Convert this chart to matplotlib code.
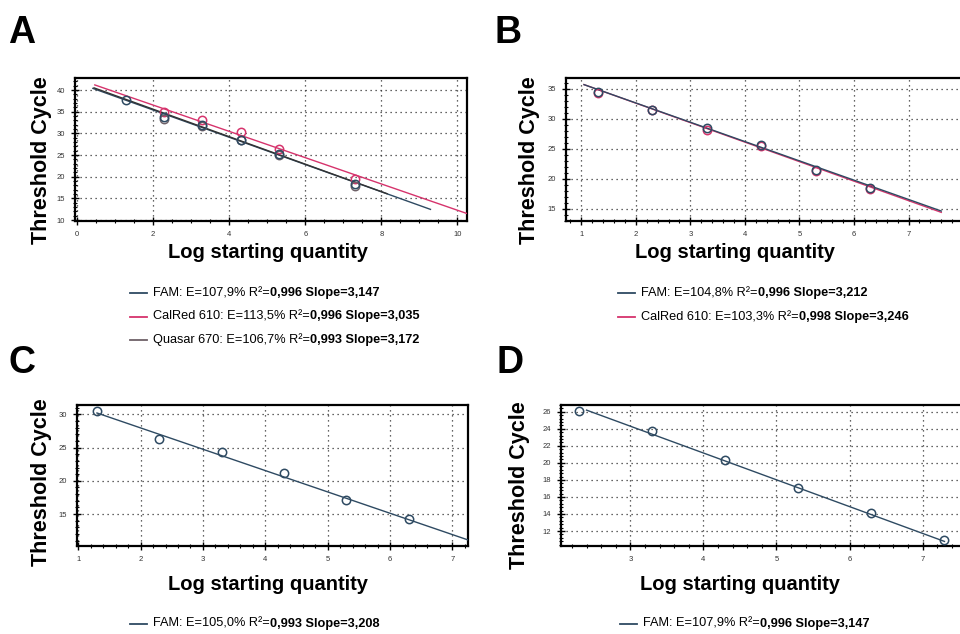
import numpy as np
import matplotlib
matplotlib.use('Agg')
import matplotlib.pyplot as plt
from matplotlib.ticker import MultipleLocator, AutoMinorLocator
from matplotlib.lines import Line2D

plt.rcParams['font.family'] = ['Liberation Sans', 'DejaVu Sans']

# 颜色
c_fam = '#2e4a62'
c_cal = '#d6336c'
c_qua = '#6e6168'

# ---- 数据 ----
# A
x_A = [1.3, 2.3, 3.3, 4.3, 5.3, 7.3]
fam_A = [37.7, 33.8, 31.9, 28.6, 25.2, 18.4]
cal_A_x = [2.3, 3.3, 4.3, 5.3, 7.3]
cal_A = [35.0, 33.2, 30.3, 26.5, 19.6]
qua_A_x = [2.3, 3.3, 4.3, 5.3, 7.3]
qua_A = [33.3, 31.7, 28.4, 25.0, 17.9]
# 回归线: (斜率, 截距, x起点, x终点)
fit_fam_A = (-3.147, 41.72, 0.42, 9.29)
fit_cal_A = (-3.035, 42.63, 0.47, 10.3)
fit_qua_A = (-3.172, 41.95, 0.45, 8.15)

# B
x_B = [1.3, 2.3, 3.3, 4.3, 5.3, 6.3]
fam_B = [34.4, 31.5, 28.4, 25.6, 21.5, 18.5]
cal_B = [34.3, 31.4, 28.2, 25.5, 21.4, 18.4]
fit_fam_B = (-3.212, 39.07, 1.05, 7.6)
fit_cal_B = (-3.246, 39.11, 1.05, 7.6)

# C
x_C = [1.3, 2.3, 3.3, 4.3, 5.3, 6.3]
fam_C = [30.45, 26.35, 24.4, 21.2, 17.1, 14.25]
fit_fam_C = (-3.208, 34.37, 1.3, 7.3)

# D
x_D = [2.3, 3.3, 4.3, 5.3, 6.3, 7.3]
fam_D = [26.1, 23.7, 20.3, 17.0, 14.1, 11.0]
fit_fam_D = (-3.147, 33.75, 2.4, 7.3)

# 图例文字 (普通部分, 粗体部分, 颜色)
leg_A = [('FAM: E=107,9% R²=', '0,996 Slope=3,147', c_fam),
         ('CalRed 610: E=113,5% R²=', '0,996 Slope=3,035', c_cal),
         ('Quasar 670: E=106,7% R²=', '0,993 Slope=3,172', c_qua)]
leg_B = [('FAM: E=104,8% R²=', '0,996 Slope=3,212', c_fam),
         ('CalRed 610: E=103,3% R²=', '0,998 Slope=3,246', c_cal)]
leg_C = [('FAM: E=105,0% R²=', '0,993 Slope=3,208', c_fam)]
leg_D = [('FAM: E=107,9% R²=', '0,996 Slope=3,147', c_fam)]

W, H = 960, 634
fig = plt.figure(figsize=(W / 100, H / 100), dpi=100)


def px_rect(left, right, top, bottom):
    return [left / W, 1 - bottom / H, (right - left) / W, (bottom - top) / H]


def setup_axes(ax, xlim, ylim, xmaj, ymaj):
    ax.set_xlim(*xlim)
    ax.set_ylim(*ylim)
    ax.xaxis.set_major_locator(MultipleLocator(xmaj))
    ax.yaxis.set_major_locator(MultipleLocator(ymaj))
    ax.xaxis.set_minor_locator(AutoMinorLocator(4 if xmaj == 2 else 5))
    ax.yaxis.set_minor_locator(AutoMinorLocator(5))
    ax.tick_params(which='major', direction='inout', length=6, width=1,
                   labelsize=5.5, pad=4, labelcolor='#333333')
    ax.tick_params(which='minor', direction='inout', length=3, width=0.8)
    for s in ax.spines.values():
        s.set_linewidth(1.6)
    ax.grid(True, which='major', linestyle=(0, (1, 3)), color='#333333', lw=0.9)
    ax.set_axisbelow(True)


def fit_line(ax, fit, color, lw=1.0):
    k, b, x0, x1 = fit
    xs = np.array([x0, x1])
    ax.plot(xs, k * xs + b, color=color, lw=lw, zorder=3)


def points(ax, x, y, color):
    ax.plot(x, y, 'o', ms=6, mfc='none', mec=color, mew=1.1, zorder=4)


def legend(entries, x_line, y_first, dy):
    for i, (t1, t2, col) in enumerate(entries):
        y = y_first + i * dy
        fig.add_artist(Line2D([x_line / W, (x_line + 17) / W], [1 - y / H, 1 - y / H],
                              color=col, lw=1.3))
        t = fig.text((x_line + 23) / W, 1 - y / H, t1, fontsize=9.2, va='center')
        fig.text(0, 0, '')
        plt.annotate(t2, xy=(1, 0.5), xycoords=t, va='center', ha='left',
                     fontsize=9.2, fontweight='bold', annotation_clip=False)


def labels(letter, lx, ly, ylab_x, ylab_y, xlab_x, xlab_y):
    fig.text(lx / W, 1 - ly / H, letter, fontsize=27, fontweight='bold',
             ha='center', va='center')
    fig.text(ylab_x / W, 1 - ylab_y / H, 'Threshold Cycle', fontsize=15.5,
             fontweight='bold', rotation=90, ha='center', va='center')
    fig.text(xlab_x / W, 1 - xlab_y / H, 'Log starting quantity', fontsize=14.5,
             fontweight='bold', ha='center', va='center')


# ---- A ----
axA = fig.add_axes(px_rect(75, 467, 78, 221))
setup_axes(axA, (-0.05, 10.25), (9.8, 42.8), 2, 5)
fit_line(axA, fit_fam_A, c_fam)
fit_line(axA, fit_qua_A, '#333333')
fit_line(axA, fit_cal_A, c_cal)
points(axA, cal_A_x, cal_A, c_cal)
points(axA, qua_A_x, qua_A, c_qua)
points(axA, x_A, fam_A, c_fam)
labels('A', 22, 33, 42, 160, 268, 253)
legend(leg_A, 130, 293, 23.5)

# ---- B ----
axB = fig.add_axes(px_rect(566, 962, 78, 221))
setup_axes(axB, (0.72, 7.98), (13.0, 36.8), 1, 5)
fit_line(axB, fit_cal_B, c_cal)
fit_line(axB, fit_fam_B, c_fam)
points(axB, x_B, cal_B, c_cal)
points(axB, x_B, fam_B, c_fam)
labels('B', 508, 33, 530, 160, 735, 253)
legend(leg_B, 618, 293, 24)

# ---- C ----
axC = fig.add_axes(px_rect(77, 468, 405, 546))
setup_axes(axC, (0.98, 7.25), (10.2, 31.4), 1, 5)
fit_line(axC, fit_fam_C, c_fam)
points(axC, x_C, fam_C, c_fam)
labels('C', 22, 363, 42, 482, 268, 584)
legend(leg_C, 130, 624, 24)

# ---- D ----
axD = fig.add_axes(px_rect(561, 962, 405, 546))
setup_axes(axD, (2.05, 7.54), (10.24, 26.8), 1, 2)
fit_line(axD, fit_fam_D, c_fam)
points(axD, x_D, fam_D, c_fam)
labels('D', 510, 363, 520, 485, 740, 585)
legend(leg_D, 620, 624, 24)

plt.savefig('out.png', dpi=100)
